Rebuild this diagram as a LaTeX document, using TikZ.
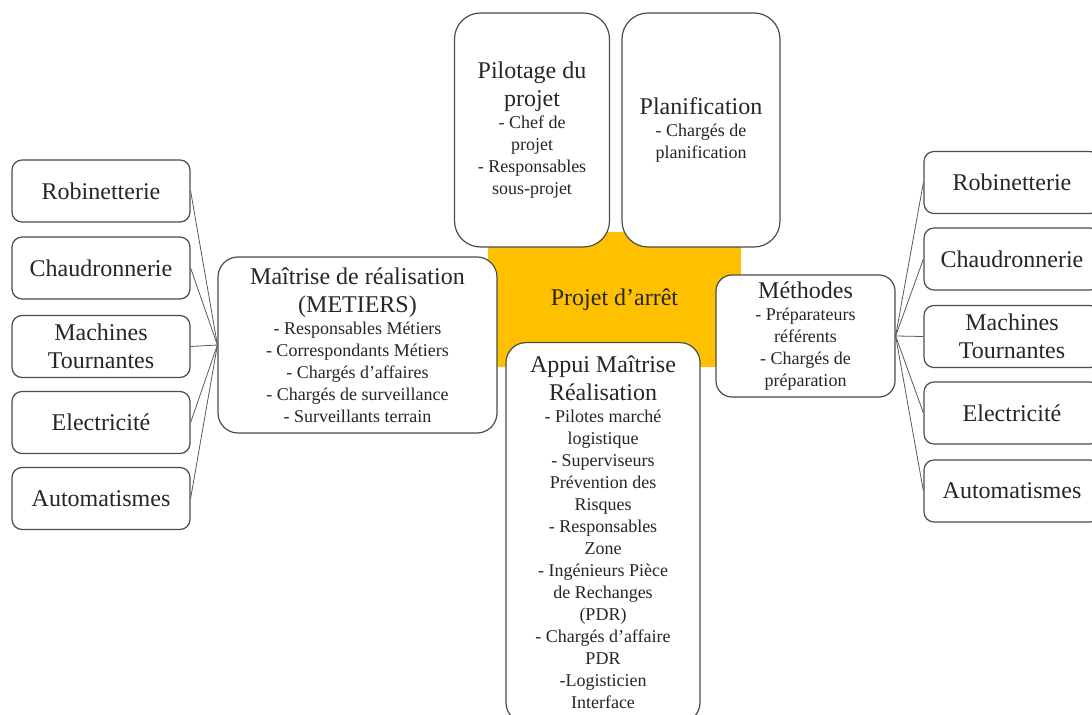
\documentclass[tikz,border=0pt]{standalone}
\usepackage{fontspec}
\setmainfont{Liberation Serif}
\definecolor{arretgold}{HTML}{FFC000}
\newcommand{\titre}{\fontsize{12}{14}\selectfont}
\newcommand{\detail}{\fontsize{9}{11}\selectfont}
\begin{document}
\begin{tikzpicture}[x=0.5pt,y=-0.5pt,
    box/.style={draw=black!70, line width=0.6pt, fill=white, rounded corners=5pt,
        align=flush center, inner sep=1pt, text=black!85},
    metier/.style={box, minimum width=89pt, minimum height=31pt, font=\titre},
    pole/.style={box, inner xsep=1pt, font=\detail},
    lien/.style={draw=black!65, line width=0.4pt}]
    \useasboundingbox (0,0) rectangle (1092,715);
    \clip (0,0) rectangle (1092,715);
    % centre
    \node (arret) [fill=arretgold, minimum width=126.5pt, minimum height=67.5pt, inner sep=0pt,
        font=\titre, text=black!85] at (614.5,299.5) {Projet d’arrêt};
    % poles
    \node (pilot) [pole, rounded corners=13pt, text width=75.5pt, minimum height=117pt] at (532,130)
        {\titre Pilotage du\\projet\par\detail - Chef de\\projet\\- Responsables\\sous-projet};
    \node (plan) [pole, rounded corners=13pt, text width=77pt, minimum height=117pt] at (701,130)
        {\titre Planification\par\detail - Chargés de\\planification};
    \node (mait) [pole, rounded corners=10pt, text width=137.5pt, minimum height=88pt] at (357.5,345)
        {\titre Maîtrise de réalisation\\(METIERS)\par\detail - Responsables Métiers\\- Correspondants Métiers\\- Chargés d’affaires\\- Chargés de surveillance\\- Surveillants terrain};
    \node (meth) [pole, rounded corners=8pt, text width=87.5pt, minimum height=61pt] at (805.5,336)
        {\titre Méthodes\par\detail - Préparateurs\\référents\\- Chargés de\\préparation};
    \node (appui) [pole, rounded corners=10pt, text width=95pt, minimum height=190pt, anchor=north] at (603,342)
        {\titre Appui Maîtrise\\Réalisation\par\detail - Pilotes marché\\logistique\\- Superviseurs\\Prévention des\\Risques\\- Responsables\\Zone\\- Ingénieurs Pièce\\de Rechanges\\(PDR)\\- Chargés d’affaire\\PDR\\-Logisticien\\Interface};
    % metiers gauche
    \node (robG)  [metier] at (101,191)   {Robinetterie};
    \node (chauG) [metier] at (101,268)   {Chaudronnerie};
    \node (machG) [metier] at (101,346.5) {Machines\\Tournantes};
    \node (elecG) [metier] at (101,422.5) {Electricité};
    \node (autoG) [metier] at (101,498.5) {Automatismes};
    % metiers droite
    \node (robD)  [metier, minimum width=88pt] at (1012,182.5) {Robinetterie};
    \node (chauD) [metier, minimum width=88pt] at (1012,259)   {Chaudronnerie};
    \node (machD) [metier, minimum width=88pt] at (1012,336.5) {Machines\\Tournantes};
    \node (elecD) [metier, minimum width=88pt] at (1012,413)   {Electricité};
    \node (autoD) [metier, minimum width=88pt] at (1012,491)   {Automatismes};
    % liens
    \foreach \m in {robG,chauG,machG,elecG,autoG}
        \draw [lien] (\m.east) -- (mait.west);
    \foreach \m in {robD,chauD,machD,elecD,autoD}
        \draw [lien] (meth.east) -- (\m.west);
\end{tikzpicture}
\end{document}
